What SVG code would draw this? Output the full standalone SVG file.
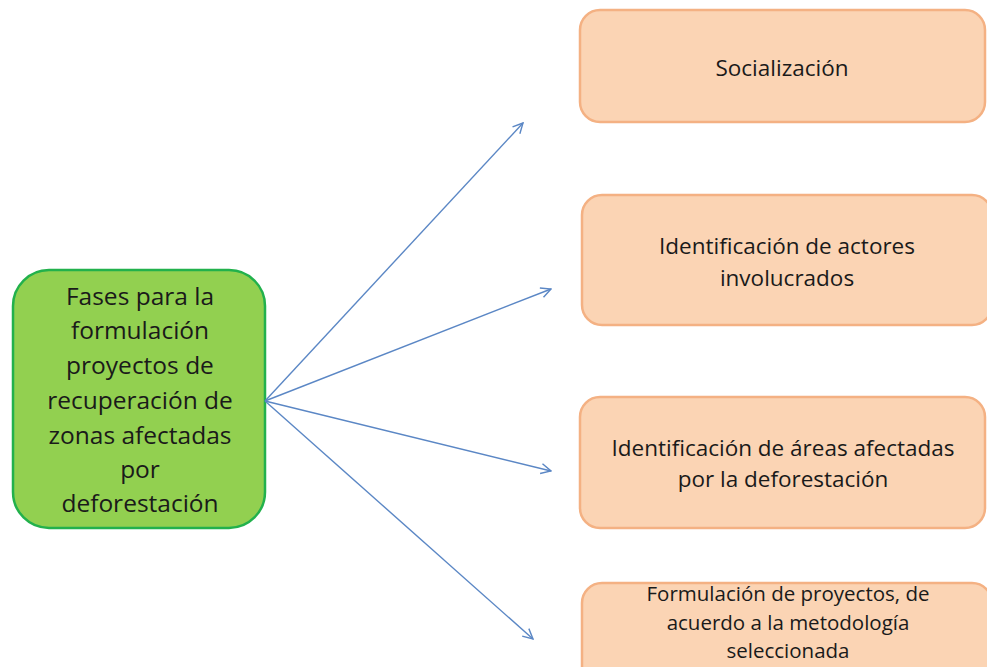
<svg xmlns="http://www.w3.org/2000/svg" width="987" height="667" viewBox="0 0 987 667">
<style>
.main{fill:#92D050;stroke:#22B14C;stroke-width:2.5}
.phase{fill:#FBD4B4;stroke:#F4B183;stroke-width:2.5}
.t1{font-family:"Open Sans","Noto Sans","Liberation Sans",sans-serif;font-size:24.5px;fill:#1a1a1a;text-anchor:middle}
.t2{font-family:"Open Sans","Noto Sans","Liberation Sans",sans-serif;font-size:22.5px;fill:#1a1a1a;text-anchor:middle}
.t3{font-size:20.5px}
.conn{stroke:#5B87C5;stroke-width:1.4;fill:none;marker-end:url(#arr)}
</style>
<defs>
<marker id="arr" viewBox="0 0 12 12" refX="11" refY="6" markerWidth="12" markerHeight="12" markerUnits="userSpaceOnUse" orient="auto">
<path d="M1,1 L11,6 L1,11" fill="none" stroke="#5B87C5" stroke-width="1.4"/>
</marker>
</defs>
<g id="main">
<rect class="main" x="13" y="270" width="252" height="258" rx="36"/>
<text class="t1" x="140" y="305">Fases para la</text>
<text class="t1" x="140" y="339">formulación</text>
<text class="t1" x="140" y="374">proyectos de</text>
<text class="t1" x="140" y="409">recuperación de</text>
<text class="t1" x="140" y="444">zonas afectadas</text>
<text class="t1" x="140" y="478">por</text>
<text class="t1" x="140" y="512">deforestación</text>
</g>
<g id="socializacion">
<rect class="phase" x="580" y="10" width="405" height="112" rx="20"/>
<text class="t2" x="782" y="76">Socialización</text>
</g>
<g id="actores">
<rect class="phase" x="582" y="195" width="410" height="130" rx="20"/>
<text class="t2" x="787" y="254">Identificación de actores</text>
<text class="t2" x="787" y="286">involucrados</text>
</g>
<g id="areas">
<rect class="phase" x="580" y="397" width="405" height="131" rx="20"/>
<text class="t2" x="783" y="456">Identificación de áreas afectadas</text>
<text class="t2" x="783" y="487">por la deforestación</text>
</g>
<g id="formulacion">
<rect class="phase" x="582" y="583" width="410" height="110" rx="20"/>
<text class="t2 t3" x="788" y="601">Formulación  de proyectos, de</text>
<text class="t2 t3" x="788" y="629.5">acuerdo a la metodología</text>
<text class="t2 t3" x="788" y="658">seleccionada</text>
</g>
<g id="connectors">
<line class="conn" x1="265" y1="401" x2="523" y2="123"/>
<line class="conn" x1="265" y1="401" x2="551" y2="289"/>
<line class="conn" x1="265" y1="401" x2="551" y2="471"/>
<line class="conn" x1="265" y1="401" x2="533" y2="639"/>
</g>
</svg>
